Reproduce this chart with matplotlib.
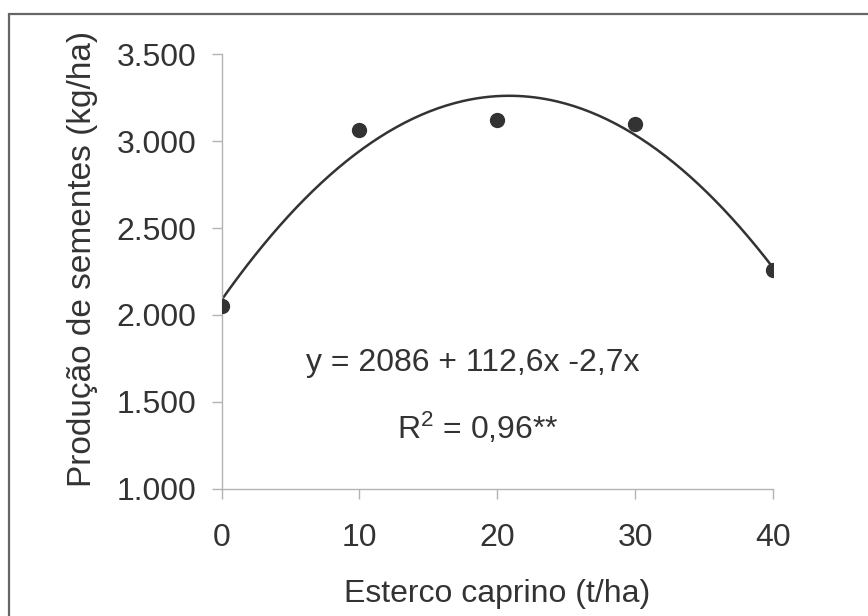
import matplotlib
matplotlib.use('Agg')
import matplotlib.pyplot as plt
import numpy as np

# dados
esterco = [0, 10, 20, 30, 40]
producao = [2054, 3063, 3121, 3100, 2257]
# coeficientes da equacao mostrada no grafico
b0, b1, b2 = 2086, 112.6, -2.7
yticks = [1000, 1500, 2000, 2500, 3000, 3500]
ytick_labels = ['1.000', '1.500', '2.000', '2.500', '3.000', '3.500']
xticks = [0, 10, 20, 30, 40]

plt.rcParams['font.family'] = ['Liberation Sans', 'DejaVu Sans']
plt.rcParams['mathtext.fontset'] = 'custom'
plt.rcParams['mathtext.rm'] = 'Liberation Sans'
plt.rcParams['mathtext.it'] = 'Liberation Sans'
txt = '#333333'
axcol = '#b3b3b3'
fs = 23

fig = plt.figure(figsize=(8.68, 6.16), dpi=100)
ax = fig.add_axes([0.2552, 0.2062, 0.6357, 0.7061])

xs = np.linspace(0, 40, 200)
ax.plot(xs, b0 + b1 * xs + b2 * xs ** 2, color='#333333', lw=1.8, zorder=2)
ax.plot(esterco, producao, 'o', color='#333333', ms=10, zorder=3)

ax.set_xlim(0, 40)
ax.set_ylim(1000, 3500)
ax.set_xticks(xticks)
ax.set_yticks(yticks)
ax.set_yticklabels(ytick_labels)

for s in ['top', 'right']:
    ax.spines[s].set_visible(False)
for s in ['left', 'bottom']:
    ax.spines[s].set_color(axcol)
    ax.spines[s].set_linewidth(1.0)
ax.tick_params(axis='both', direction='out', length=7.2, width=1.0, color=axcol,
               labelsize=fs, labelcolor=txt)
ax.tick_params(axis='y', pad=11)
ax.tick_params(axis='x', pad=17)

ax.set_xlabel('Esterco caprino (t/ha)', fontsize=fs, color=txt, labelpad=19)
ax.set_ylabel('Produção de sementes (kg/ha)', fontsize=24, color=txt, labelpad=13, y=0.529)

ax.text(18.2, 1726, 'y = 2086 + 112,6x -2,7x', fontsize=fs, color=txt,
        ha='center', va='center')
ax.text(18.6, 1351, r'R$^2$ = 0,96**', fontsize=fs, color=txt,
        ha='center', va='center')

# moldura externa
frame = plt.Rectangle((9 / 868, -0.1), 1.2, 1.1 - 14 / 616, transform=fig.transFigure,
                      fill=False, edgecolor='#666666', lw=1.6, clip_on=False)
fig.patches.append(frame)

fig.savefig('out.png', dpi=100)
